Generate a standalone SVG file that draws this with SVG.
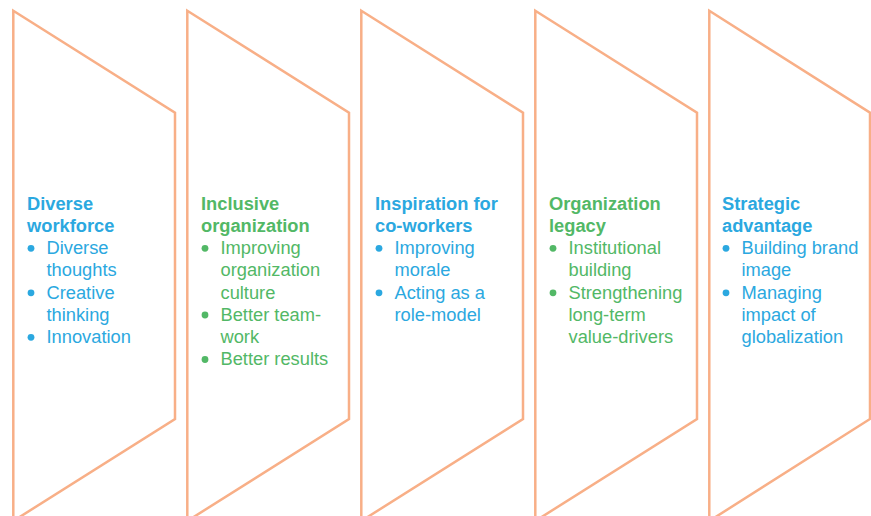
<svg xmlns="http://www.w3.org/2000/svg" width="871" height="516" viewBox="0 0 871 516">
<style>
.shape{fill:none;stroke:#F8AF87;stroke-width:2.5;stroke-linejoin:miter}
text{font-family:"Liberation Sans",Arial,sans-serif;font-size:18.3px}
.t{font-weight:bold}
.blue{fill:#2BA8E0}
.green{fill:#52B866}
</style>
<rect width="871" height="516" fill="#FFFFFF"/>
<g id="connectors"></g>
<g id="node1">
<polygon class="shape" points="13.3,10.7 175,112.7 175,419 13.3,521"/>
<g class="blue">
<text class="t" x="27" y="209.5">Diverse</text>
<text class="t" x="27" y="231.75">workforce</text>
<circle cx="31" cy="248.3" r="3.4"/><text x="46.5" y="254">Diverse</text>
<text x="46.5" y="276.25">thoughts</text>
<circle cx="31" cy="292.8" r="3.4"/><text x="46.5" y="298.5">Creative</text>
<text x="46.5" y="320.75">thinking</text>
<circle cx="31" cy="337.3" r="3.4"/><text x="46.5" y="343">Innovation</text>
</g>
</g>
<g id="node2">
<polygon class="shape" points="187.3,10.7 349,112.7 349,419 187.3,521"/>
<g class="green">
<text class="t" x="201" y="209.5">Inclusive</text>
<text class="t" x="201" y="231.75">organization</text>
<circle cx="205" cy="248.3" r="3.4"/><text x="220.5" y="254">Improving</text>
<text x="220.5" y="276.25">organization</text>
<text x="220.5" y="298.5">culture</text>
<circle cx="205" cy="315" r="3.4"/><text x="220.5" y="320.75">Better team-</text>
<text x="220.5" y="343">work</text>
<circle cx="205" cy="359.5" r="3.4"/><text x="220.5" y="365.25">Better results</text>
</g>
</g>
<g id="node3">
<polygon class="shape" points="361.3,10.7 523,112.7 523,419 361.3,521"/>
<g class="blue">
<text class="t" x="375" y="209.5">Inspiration for</text>
<text class="t" x="375" y="231.75">co-workers</text>
<circle cx="379" cy="248.3" r="3.4"/><text x="394.5" y="254">Improving</text>
<text x="394.5" y="276.25">morale</text>
<circle cx="379" cy="292.8" r="3.4"/><text x="394.5" y="298.5">Acting as a</text>
<text x="394.5" y="320.75">role-model</text>
</g>
</g>
<g id="node4">
<polygon class="shape" points="535.3,10.7 697,112.7 697,419 535.3,521"/>
<g class="green">
<text class="t" x="549" y="209.5">Organization</text>
<text class="t" x="549" y="231.75">legacy</text>
<circle cx="553" cy="248.3" r="3.4"/><text x="568.5" y="254">Institutional</text>
<text x="568.5" y="276.25">building</text>
<circle cx="553" cy="292.8" r="3.4"/><text x="568.5" y="298.5">Strengthening</text>
<text x="568.5" y="320.75">long-term</text>
<text x="568.5" y="343">value-drivers</text>
</g>
</g>
<g id="node5">
<polygon class="shape" points="709.3,10.7 870,112.7 870,419 709.3,521"/>
<g class="blue">
<text class="t" x="722" y="209.5">Strategic</text>
<text class="t" x="722" y="231.75">advantage</text>
<circle cx="726" cy="248.3" r="3.4"/><text x="741.5" y="254">Building brand</text>
<text x="741.5" y="276.25">image</text>
<circle cx="726" cy="292.8" r="3.4"/><text x="741.5" y="298.5">Managing</text>
<text x="741.5" y="320.75">impact of</text>
<text x="741.5" y="343">globalization</text>
</g>
</g>
</svg>
